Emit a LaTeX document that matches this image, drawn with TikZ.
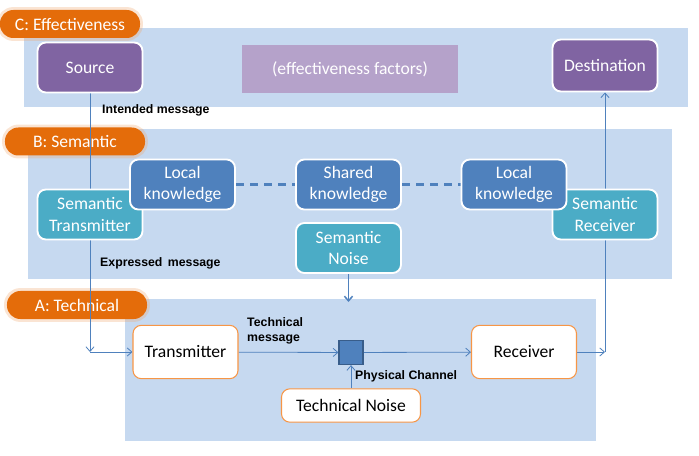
\documentclass[tikz,border=0pt]{standalone}
\usepackage{fontspec}
\setmainfont{Carlito}
\newfontfamily\labelfont{Liberation Sans}
\usetikzlibrary{shapes,arrows,arrows.meta,positioning,calc}
\pgfdeclarelayer{back}
\pgfdeclarelayer{mid}
\pgfsetlayers{back,mid,main}
\definecolor{bandblue}{RGB}{198,217,240}
\definecolor{pillorange}{RGB}{228,108,10}
\definecolor{effpurple}{RGB}{128,100,162}
\definecolor{factorpurple}{RGB}{181,162,202}
\definecolor{knowblue}{RGB}{79,129,189}
\definecolor{semteal}{RGB}{75,172,198}
\definecolor{lineblue}{RGB}{79,129,189}
\definecolor{techorange}{RGB}{247,150,70}
\definecolor{chanborder}{RGB}{56,93,138}
\tikzset{
  box/.style={draw=white, line width=1.6pt, rounded corners=0.25cm, minimum width=3.15cm,
    minimum height=1.5cm, align=center, text=white, font=\fontsize{15}{18}\selectfont},
  effbox/.style={box, fill=effpurple},
  knowbox/.style={box, fill=knowblue},
  sembox/.style={box, fill=semteal},
  techbox/.style={box, draw=techorange, line width=0.9pt, fill=white, text=black, minimum height=1.6cm},
  layerpill/.style={fill=pillorange, rounded corners=0.4cm, minimum width=4.2cm, minimum height=0.84cm,
    text=white, font=\fontsize{15}{17}\selectfont,
    preaction={draw=pillorange!60, line width=5pt, opacity=0.3}},
  band/.style={fill=bandblue},
  flow/.style={-{Straight Barb[length=4pt,width=7pt]}, draw=lineblue, line width=0.7pt},
  msg/.style={anchor=west, align=left, inner sep=0pt, font=\labelfont\bfseries\fontsize{10.5}{13}\selectfont}
}
\begin{document}
\begin{tikzpicture}[x=0.03cm,y=-0.03cm]
    \useasboundingbox (0,0) rectangle (699,456);

    % Layer bands and their tags
    \begin{pgfonlayer}{back}
    \fill[band] (24,28) rectangle (688,107);
    \fill[band] (28,129) rectangle (672,279);
    \fill[band] (125,299) rectangle (596,441);
    \node[layerpill] (lblC) at (70,24) {C: Effectiveness};
    \node[layerpill] (lblB) at (75,141.5) {B: Semantic};
    \node[layerpill] (lblA) at (77,305) {A: Technical};
    \end{pgfonlayer}

    % C: Effectiveness
    \node[effbox] (src) at (90,67.5) {Source};
    \node[box, draw=none, rounded corners=0, fill=factorpurple, minimum width=6.48cm, minimum height=1.44cm] (fac) at (350,69) {(effectiveness factors)};
    \node[effbox, minimum height=1.56cm] (dst) at (605,65.5) {Destination};

    % B: Semantic
    \node[sembox] (stx) at (90,214.5) {Semantic\\Transmitter};
    \node[sembox] (srx) at (605,214.5) {Semantic\\Receiver};
    \node[knowbox] (lkl) at (182.5,184.5) {Local\\knowledge};
    \node[knowbox] (shk) at (348.5,184.5) {Shared\\knowledge};
    \node[knowbox] (lkr) at (514,184.5) {Local\\knowledge};
    \node[sembox] (sn) at (348.5,248) {Semantic\\Noise};

    % A: Technical
    \node[techbox] (tx) at (185.5,352) {Transmitter};
    \node[techbox] (rx) at (524,352) {Receiver};
    \node[draw=chanborder, line width=1pt, fill=knowblue, minimum size=0.72cm, inner sep=0pt] (ch) at (351,352.5) {};
    \node[techbox, minimum width=4.17cm, minimum height=1cm] (tn) at (351,405.5) {Technical Noise};

    % Message labels
    \node[msg] (intd) at (102,110) {Intended message};
    \node[msg] (expr) at (100,263) {Expressed\, message};
    \node[msg] (tmsg) at (247,331) {Technical\\message};
    \node[msg] (phys) at (355,376) {Physical Channel};

    % Connectors
    \begin{pgfonlayer}{mid}
    \coordinate (cornerL) at (90,352);
    \coordinate (cornerR) at (605,352);
    \coordinate (snend) at (348.5,302);
    \draw[flow] (src) -- (cornerL);
    \draw[flow] (cornerL) -- (tx);
    \draw[flow] (tx) -- (ch);
    \draw[flow] (ch) -- (rx);
    \draw[flow] (tn) -- (ch);
    \draw[flow] (rx) -- (cornerR);
    \draw[flow] (cornerR) -- (dst);
    \draw[flow, line width=1.3pt] (sn) -- (snend);
    \draw[draw=knowblue, line width=2pt, dash pattern=on 7pt off 5pt] (lkl) -- (shk);
    \draw[draw=knowblue, line width=2pt, dash pattern=on 7pt off 5pt] (shk) -- (lkr);
    \end{pgfonlayer}
\end{tikzpicture}
\end{document}
